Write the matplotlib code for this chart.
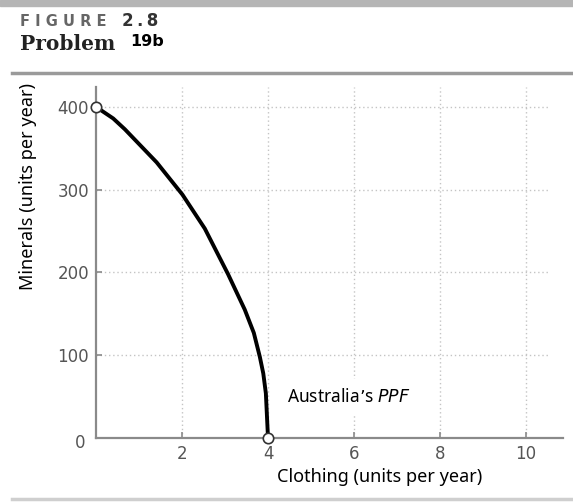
import matplotlib.pyplot as plt
from matplotlib.patches import Rectangle
from matplotlib.lines import Line2D

# PPF
clothing = [0, 0.40, 0.67, 1.41, 2.01, 2.53, 3.07, 3.46, 3.67, 3.81, 3.89, 3.95, 4.0]
minerals = [400, 386, 373, 333, 294, 253, 198, 155, 127, 98, 78, 54, 0]
end_x = [0, 4]
end_y = [400, 0]

xticks = [2, 4, 6, 8, 10]
yticks = [100, 200, 300, 400]

W, H = 573, 504
fig = plt.figure(figsize=(W / 100, H / 100), dpi=100)

# header
fig.patches.append(Rectangle((0, 1 - 6 / H), 1, 6 / H, transform=fig.transFigure,
                             color='#b5b5b5', zorder=0))
fig.text(20 / W, 1 - 21 / H, 'F I G U R E', fontsize=10.5, color='#666666',
         va='center', ha='left', family='DejaVu Sans', fontweight='bold')
fig.text(122 / W, 1 - 21 / H, '2\u2009.\u20098', fontsize=12, color='#333333',
         fontweight='bold', va='center', ha='left', family='DejaVu Sans')
fig.text(20 / W, 1 - 44 / H, 'Problem', fontsize=14.5, color='#222222', fontweight='bold',
         va='center', ha='left', family='DejaVu Serif')
fig.text(130 / W, 1 - 42 / H, '19b', fontsize=11.5, color='black', fontweight='bold',
         va='center', ha='left', family='DejaVu Sans')
fig.lines.append(Line2D([12 / W, 1], [1 - 73 / H, 1 - 73 / H], transform=fig.transFigure,
                        color='#9a9a9a', lw=2.5))
fig.lines.append(Line2D([12 / W, 1], [1 - 499 / H, 1 - 499 / H], transform=fig.transFigure,
                        color='#cfcfcf', lw=2.5))

ax = fig.add_axes([96 / W, 66 / H, 467 / W, 351 / H])
ax.set_xlim(0, 10.86)
ax.set_ylim(0, 424)

# dotted grid
for x in xticks:
    ax.plot([x, x], [0, 424], color='#c4c4c4', lw=1, ls=(0, (1, 2)), zorder=1)
for y in yticks:
    ax.plot([0, 10.55], [y, y], color='#c4c4c4', lw=1, ls=(0, (1, 2)), zorder=1)

ax.plot(clothing, minerals, color='black', lw=2.8, zorder=3,
        solid_capstyle='round', solid_joinstyle='round')
ax.plot(end_x, end_y, 'o', mfc='white', mec='#333333', mew=1.2, ms=7.5,
        zorder=5, clip_on=False)

ax.text(4.44, 50, 'Australia\u2019s $\\it{PPF}$', fontsize=12.5, va='center', ha='left',
        family='Noto Sans', zorder=4,
        bbox=dict(boxstyle='square,pad=0.5', fc='white', ec='none'))

for s in ['top', 'right']:
    ax.spines[s].set_visible(False)
for s in ['left', 'bottom']:
    ax.spines[s].set_color('#8a8a8a')
    ax.spines[s].set_linewidth(1.6)

ax.set_xticks(xticks)
ax.set_yticks(yticks)
ax.tick_params(direction='in', length=4, width=1.2, color='#8a8a8a',
               labelcolor='#555555', labelsize=12)
ax.tick_params(axis='x', pad=5)
ax.tick_params(axis='y', pad=5)
# origin label sits below-left of the corner
ax.text(-0.37, -6, '0', fontsize=12, color='#555555', ha='center', va='center')

ax.set_xlabel('Clothing (units per year)', fontsize=13, family='Noto Sans')
ax.set_ylabel('Minerals (units per year)', fontsize=13, family='Noto Sans')
ax.yaxis.set_label_coords(-59 / 467, (438 - 187) / 351)
ax.xaxis.set_label_coords((380 - 96) / 467, -30 / 351)

fig.savefig('out.png', dpi=100)
